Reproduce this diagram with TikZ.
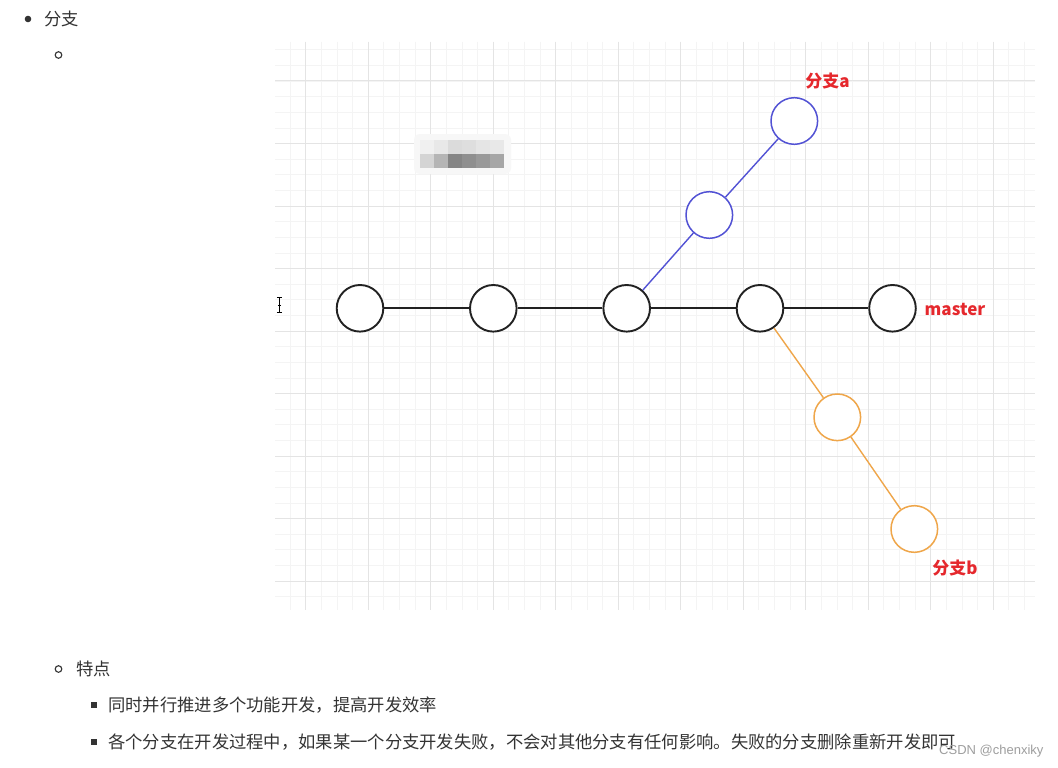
\documentclass[tikz,border=0pt]{standalone}
\usepackage{fontspec}
\newfontfamily\cjk{Noto Sans CJK SC}
\newfontfamily\wm{Liberation Sans}
\definecolor{txt}{HTML}{333333}
\definecolor{gmajor}{HTML}{E4E4E4}
\definecolor{gminor}{HTML}{F4F4F4}
\definecolor{lblred}{HTML}{E5282D}
\definecolor{bblue}{HTML}{5252D4}
\definecolor{borange}{HTML}{EFA64A}
\definecolor{commit}{HTML}{222222}
\tikzset{
  doc/.style={inner sep=0pt, anchor=west, text=txt, font=\cjk\fontsize{17.3}{20}\selectfont},
  lbl/.style={inner sep=0pt, text=lblred, font=\cjk\bfseries\fontsize{17}{20}\selectfont},
  commitnode/.style={circle, draw=commit, line width=1.9pt, fill=white, minimum size=46.6pt, inner sep=0pt},
  branchA/.style={circle, draw=bblue, line width=1.5pt, fill=white, minimum size=46.6pt, inner sep=0pt},
  branchB/.style={circle, draw=borange, line width=1.5pt, fill=white, minimum size=46.6pt, inner sep=0pt},
  mline/.style={draw=commit, line width=1.8pt},
  aline/.style={draw=bblue, line width=1.4pt},
  bline/.style={draw=borange, line width=1.4pt},
}
\begin{document}
\begin{tikzpicture}[x=1pt,y=-1pt]
\useasboundingbox[fill=white] (0,0) rectangle (1058,768);
% grid
\begin{scope}
\clip (275,42) rectangle (1035,610);
\foreach \i in {0,...,52} {
  \draw[gminor, line width=0.7pt] (274.45+15.625*\i,42) -- (274.45+15.625*\i,610);
}
\foreach \j in {0,...,40} {
  \draw[gminor, line width=0.7pt] (275,18.5+15.625*\j) -- (1035,18.5+15.625*\j);
}
\foreach \i in {0,...,12} {
  \draw[gmajor, line width=1pt] (305.7+62.5*\i,42) -- (305.7+62.5*\i,610);
}
\foreach \j in {0,...,10} {
  \draw[gmajor, line width=1pt] (275,18.5+62.5*\j) -- (1035,18.5+62.5*\j);
}
\end{scope}
% blurred box
\fill[white!97!black, rounded corners=6pt] (414,134) rectangle (511,174);
\fill[fill=white!94!black] (420,140) rectangle (434,154);
\fill[fill=white!91!black] (434,140) rectangle (448,154);
\fill[fill=white!86!black] (448,140) rectangle (462,154);
\fill[fill=white!87!black] (462,140) rectangle (476,154);
\fill[fill=white!90!black] (476,140) rectangle (490,154);
\fill[fill=white!91!black] (490,140) rectangle (504,154);
\fill[fill=white!83!black] (420,154) rectangle (434,168);
\fill[fill=white!71!black] (434,154) rectangle (448,168);
\fill[fill=white!52!black] (448,154) rectangle (462,168);
\fill[fill=white!56!black] (462,154) rectangle (476,168);
\fill[fill=white!60!black] (476,154) rectangle (490,168);
\fill[fill=white!65!black] (490,154) rectangle (504,168);
% cursor I-beam
\draw[black, line width=0.9pt] (276.8,297.5) -- (282.2,297.5)
  (279.5,297.5) -- (279.5,312)
  (276.8,312) -- (282.2,312)
  (277.8,305) -- (281.2,305);
% commits
\node[commitnode] (m1) at (360,308.3) {};
\node[commitnode] (m2) at (493.3,308.3) {};
\node[commitnode] (m3) at (626.7,308.3) {};
\node[commitnode] (m4) at (760,308.3) {};
\node[commitnode] (m5) at (892.5,308.3) {};
\node[branchA] (a1) at (709.3,215) {};
\node[branchA] (a2) at (794.3,121) {};
\node[branchB] (b1) at (837.3,417.3) {};
\node[branchB] (b2) at (914.3,529) {};
\draw[mline] (m1) -- (m2);
\draw[mline] (m2) -- (m3);
\draw[mline] (m3) -- (m4);
\draw[mline] (m4) -- (m5);
\draw[aline] (m3) -- (a1);
\draw[aline] (a1) -- (a2);
\draw[bline] (m4) -- (b1);
\draw[bline] (b1) -- (b2);
% labels
\node[lbl] (la) at (827.5,81.5) {分支a};
\node[lbl] (lm) at (955,309) {master};
\node[lbl] (lb) at (955,568) {分支b};
% document text
\fill[txt] (28,19) circle (3.3);
\node[doc] (t1) at (44,19) {分支};
\draw[txt, line width=1.1pt] (58.5,55) circle (3.3);
\draw[txt, line width=1.1pt] (58.5,669) circle (3.3);
\node[doc] (t2) at (76,669) {特点};
\fill[txt] (91,702) rectangle (97,708);
\node[doc] (t3) at (108,705) {同时并行推进多个功能开发，提高开发效率};
\fill[txt] (91,739) rectangle (97,745);
\node[doc] (t4) at (108,742) {各个分支在开发过程中，如果某一个分支开发失败，不会对其他分支有任何影响。失败的分支删除重新开发即可};
\node[inner sep=0pt, anchor=west, text=white!62!black, font=\wm\fontsize{13}{15}\selectfont] (w) at (939,751.5) {CSDN @chenxiky};
\end{tikzpicture}
\end{document}
